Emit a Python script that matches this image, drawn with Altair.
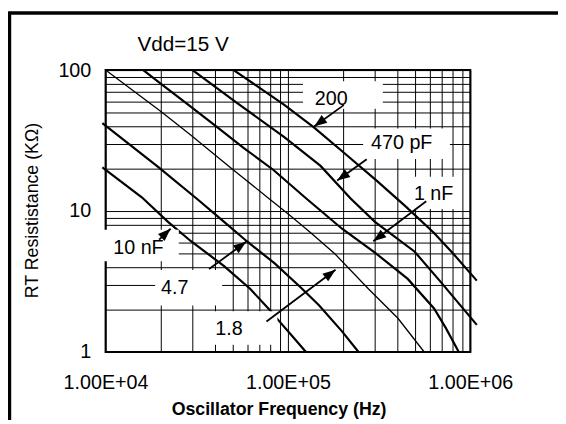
import altair as alt
import pandas as pd

# ---------------- data ----------------
series_names = ["200 pF", "470 pF", "1 nF", "1.8 nF", "4.7 nF", "10 nF"]

f_200p = [50400, 95500, 138800, 206600, 306500, 445000, 633000, 812000, 1086000]
r_200p = [100, 56.7, 39.2, 25.4, 16.45, 10.7, 6.99, 4.93, 3.21]

f_470p = [30000, 52500, 95500, 151000, 220000, 300000, 494000, 688000, 1086000]
r_470p = [100, 58.6, 33.4, 20.9, 12.32, 8.38, 5.17, 3.145, 1.558]

f_1n = [16100, 19400, 27100, 39300, 57100, 83000, 125600, 198000, 300000, 454000, 633000, 735000, 865000]
r_1n = [100, 82.7, 59.5, 41.1, 28.1, 19.64, 12.32, 7.49, 5.07, 3.30, 2.038, 1.477, 1.0]

f_18n = [10000, 20200, 29400, 48300, 79500, 102000, 130900, 182000, 276000, 401000, 559000]
r_18n = [100, 50.7, 34.45, 20.4, 12.13, 9.38, 7.17, 4.93, 2.81, 1.735, 1.0]

f_47n = [9600, 19400, 31900, 44500, 59500, 84300, 118000, 148000, 198000, 244000]
r_47n = [42.0, 20.6, 12.13, 8.42, 6.11, 4.267, 2.856, 2.148, 1.401, 1.0]

f_10n = [9600, 15800, 22000, 29400, 44500, 62000, 79500, 88300, 105500, 125600]
r_10n = [20.38, 12.52, 8.38, 6.107, 4.087, 2.810, 1.983, 1.689, 1.299, 1.0]

thin_series = ["1.8 nF"]

label_text = ["200", "470 pF", "1 nF", "10 nF", "4.7", "1.8"]
label_f = [140500, 285600, 490700, 11020, 20150, 39950]
label_r = [56.45, 27.38, 11.94, 4.93, 2.593, 1.327]

box_f1 = [121000, 258500, 466000, 9670, 18700, 32700]
box_f2 = [331500, 773000, 875000, 25200, 43600, 87600]
box_r1 = [83.4, 38.57, 17.54, 7.37, 3.814, 1.942]
box_r2 = [53.2, 23.44, 10.33, 4.406, 2.138, 1.125]

arrow_f1 = [202300, 270600, 573300, 19660, 36950, 76300]
arrow_r1 = [56.45, 23.33, 11.74, 6.277, 3.876, 1.645]
arrow_f2 = [139200, 186300, 293800, 22740, 59000, 182400]
arrow_r2 = [39.82, 16.45, 6.11, 7.49, 6.048, 3.832]
arrow_angle = [234, 234, 233, 47, 54, 53]

note_text = ["Vdd=15 V"]
note_f = [14950]
note_r = [137.2]

x_grid = [10000, 20000, 30000, 40000, 50000, 60000, 70000, 80000, 90000,
          100000, 200000, 300000, 400000, 500000, 600000, 700000, 800000, 900000, 1000000]
y_grid = [1, 2, 3, 4, 5, 6, 7, 8, 9, 10, 20, 30, 40, 50, 60, 70, 80, 90, 100]
x_label_values = [10000, 100000, 1000000]
x_label_text = ["1.00E+04", "1.00E+05", "1.00E+06"]
y_label_values = [1, 10, 100]
y_label_text = ["1", "10", "100"]

x_title = "Oscillator Frequency (Hz)"
y_title = "RT Resististance (KΩ)"

# ---------------- tables ----------------
curves = []
for name, fs, rs in zip(series_names,
                        [f_200p, f_470p, f_1n, f_18n, f_47n, f_10n],
                        [r_200p, r_470p, r_1n, r_18n, r_47n, r_10n]):
    for i, (f, r) in enumerate(zip(fs, rs)):
        curves.append({"series": name, "f": f, "r": r, "i": i})
curves = pd.DataFrame(curves)
thick_df = curves[~curves.series.isin(thin_series)]
thin_df = curves[curves.series.isin(thin_series)]

labels_df = pd.DataFrame({"t": label_text, "f": label_f, "r": label_r})
boxes_df = pd.DataFrame({"f": box_f1, "f2": box_f2, "r": box_r1, "r2": box_r2})
arrows_df = pd.DataFrame({"f": arrow_f1, "r": arrow_r1, "f2": arrow_f2,
                          "r2": arrow_r2, "a": arrow_angle})
heads_df = pd.DataFrame({"f": arrow_f2, "r": arrow_r2, "a": arrow_angle})
note_df = pd.DataFrame({"t": note_text, "f": note_f, "r": note_r})

FONT = "Liberation Sans"

def label_expr(values, texts):
    return "".join(f"datum.value == {v} ? '{t}' : " for v, t in zip(values, texts)) + "''"

xs = alt.Scale(type="log", domain=[1e4, 1e6], nice=False)
ys = alt.Scale(type="log", domain=[1, 100], nice=False)

x_axis = alt.Axis(values=x_grid, labelExpr=label_expr(x_label_values, x_label_text),
                  grid=True, gridColor="#000000", gridWidth=1, gridOpacity=1,
                  ticks=False, tickSize=0, domain=False, labelFlush=False, labelOverlap=False,
                  labelFont=FONT, labelFontSize=20, labelColor="#000000", labelPadding=21,
                  labelBaseline="top",
                  title=x_title, titleFont=FONT, titleFontSize=18, titleFontWeight="bold",
                  titleColor="#000000", titleX=175.5, titleY=63, titleBaseline="alphabetic",
                  titleAlign="center", titleAnchor="start", zindex=0)
y_axis = alt.Axis(values=y_grid, labelExpr=label_expr(y_label_values, y_label_text),
                  grid=True, gridColor="#000000", gridWidth=1, gridOpacity=1,
                  ticks=False, tickSize=0, domain=False, labelFlush=False, labelOverlap=False,
                  labelFont=FONT, labelFontSize=20, labelColor="#000000", labelPadding=15,
                  title=y_title, titleFont=FONT, titleFontSize=18, titleFontWeight="normal",
                  titleColor="#000000", titleAngle=270, titleX=-69, titleY=142,
                  titleBaseline="alphabetic", titleAlign="center", titleAnchor="start", zindex=0)

X = alt.X("f:Q", scale=xs, axis=x_axis)
Y = alt.Y("r:Q", scale=ys, axis=y_axis)

base_thick = alt.Chart(thick_df).mark_line(color="#000000", strokeWidth=2.2).encode(
    x=X, y=Y, detail="series:N", order="i:Q",
)
thin = alt.Chart(thin_df).mark_line(color="#000000", strokeWidth=1.3).encode(
    x=X, y=Y, order="i:Q",
)
boxes = alt.Chart(boxes_df).mark_rect(color="#ffffff", opacity=1).encode(
    x=X, x2="f2:Q", y=Y, y2="r2:Q",
)
texts = alt.Chart(labels_df).mark_text(font=FONT, fontSize=20, align="left",
                                       baseline="alphabetic", color="#000000").encode(
    x=X, y=Y, text="t:N",
)
note = alt.Chart(note_df).mark_text(font=FONT, fontSize=21, align="left",
                                    baseline="alphabetic", color="#000000").encode(
    x=X, y=Y, text="t:N",
)
arrow_lines = alt.Chart(arrows_df).mark_rule(color="#000000", strokeWidth=1.8).encode(
    x=X, x2="f2:Q", y=Y, y2="r2:Q",
)
arrow_heads = alt.Chart(heads_df).mark_point(shape="M0,0L0.75,2L-0.75,2Z", filled=True,
                                             size=169, color="#000000", opacity=1,
                                             strokeWidth=0).encode(
    x=X, y=Y, angle=alt.Angle("a:Q", scale=None),
)
frame_left = alt.Chart(note_df).mark_rule(color="#000000", strokeWidth=3.5).encode(
    x=alt.value(-97.5), y=alt.value(-58), y2=alt.value(360))
frame_top = alt.Chart(note_df).mark_rule(color="#000000", strokeWidth=3.5).encode(
    x=alt.value(-99), x2=alt.value(470), y=alt.value(-58))

chart = alt.layer(base_thick, thin, boxes, texts, note, arrow_lines, arrow_heads,
                  frame_left, frame_top).properties(
    width=370, height=286,
    autosize=alt.AutoSizeParams(type="none"),
    padding={"left": 99, "top": 60, "right": 89, "bottom": 66},
    background="#ffffff",
).configure_view(stroke="#000000", strokeWidth=2)

chart.save("out.html", embed_options={"renderer": "svg", "actions": False})
